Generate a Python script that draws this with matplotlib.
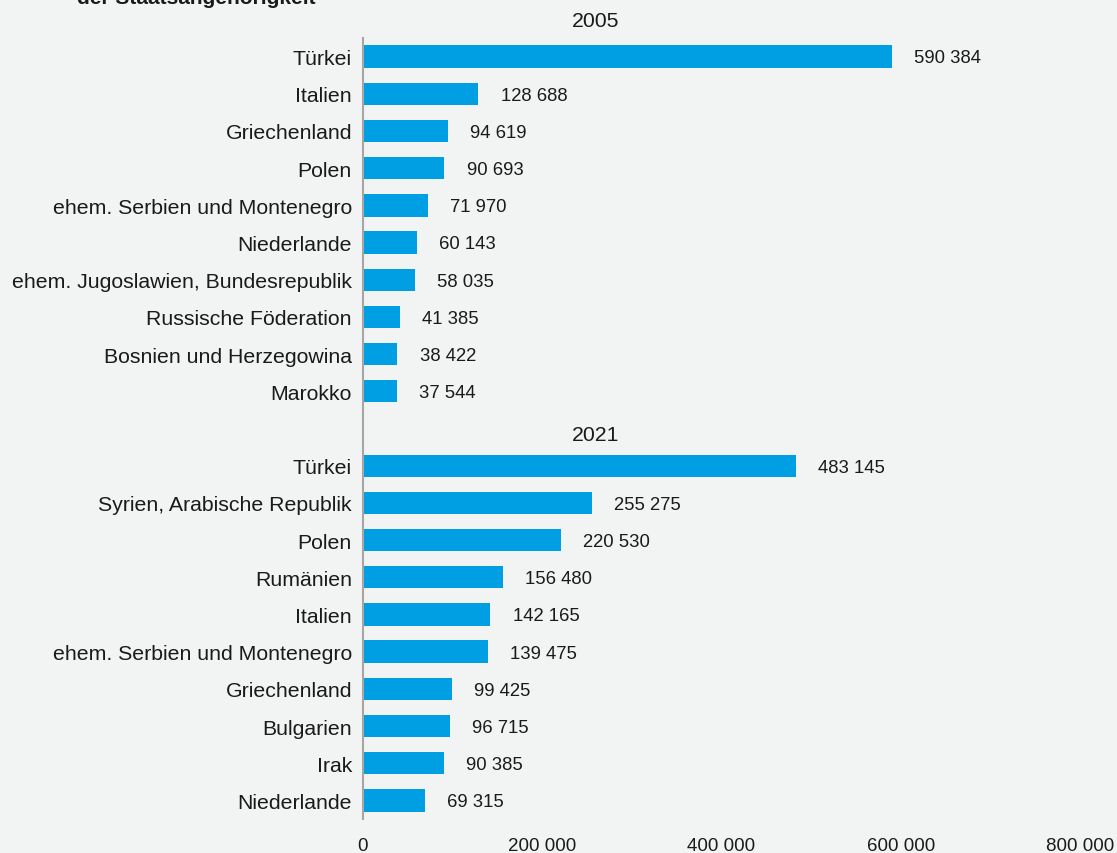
import matplotlib.pyplot as plt

plt.rcParams['font.family'] = ['Liberation Sans', 'DejaVu Sans']

years = ['2005', '2021']
countries_2005 = ['Türkei', 'Italien', 'Griechenland', 'Polen',
                  'ehem. Serbien und Montenegro', 'Niederlande',
                  'ehem. Jugoslawien, Bundesrepublik', 'Russische Föderation',
                  'Bosnien und Herzegowina', 'Marokko']
values_2005 = [590384, 128688, 94619, 90693, 71970, 60143, 58035, 41385, 38422, 37544]
countries_2021 = ['Türkei', 'Syrien, Arabische Republik', 'Polen', 'Rumänien',
                  'Italien', 'ehem. Serbien und Montenegro', 'Griechenland',
                  'Bulgarien', 'Irak', 'Niederlande']
values_2021 = [483145, 255275, 220530, 156480, 142165, 139475, 99425, 96715, 90385, 69315]
x_ticks = [0, 200000, 400000, 600000, 800000]

bg = '#f2f3f3'
bar_color = '#009fe3'
txt = '#1a1a1a'


def fmt(v):
    return f'{v:,}'.replace(',', ' ')


fig = plt.figure(figsize=(11.17, 8.54), dpi=100, facecolor=bg)
ax = fig.add_axes([363 / 1117, 1 - 820 / 854, (1080 - 363) / 1117, (820 - 39) / 854])
ax.set_facecolor(bg)

# slot 0 = header 2005, slots 1-10, slot 11 = header 2021, slots 12-21
groups = [(countries_2005, values_2005, 1), (countries_2021, values_2021, 12)]
ytick_pos, ytick_lab = [], []
for names, vals, start in groups:
    pos = list(range(start, start + len(names)))
    ax.barh(pos, vals, height=0.6, color=bar_color)
    for p, v in zip(pos, vals):
        ax.annotate(fmt(v), (v, p), xytext=(16, -1), textcoords='offset points',
                    ha='left', va='center', fontsize=13.3, color=txt)
    ytick_pos += pos
    ytick_lab += names

# group headers
for yr, slot in zip(years, [0.04, 11.15]):
    ax.text(259000, slot, yr, ha='center', va='center', fontsize=15.3,
            color=txt, clip_on=False)

ax.set_yticks(ytick_pos)
ax.set_yticklabels(ytick_lab, fontsize=15.3, color=txt)
ax.set_ylim(21.5, 0.5)
ax.set_xlim(0, 800000)
ax.set_xticks(x_ticks)
ax.set_xticklabels([fmt(t) for t in x_ticks], fontsize=13.5, color=txt)
ax.tick_params(axis='both', length=0)
ax.tick_params(axis='y', pad=8)
ax.tick_params(axis='x', pad=13)

for s in ['top', 'right', 'bottom']:
    ax.spines[s].set_visible(False)
ax.spines['left'].set_color('#a6a6a6')
ax.spines['left'].set_linewidth(1.5)

# title, only its last line is visible at the top edge
fig.text(77 / 1117, 1 - 4 / 854, 'der Staatsangehörigkeit', fontsize=15,
         fontweight='bold', ha='left', va='baseline', color=txt)

fig.savefig('out.png', dpi=100, facecolor=bg)
